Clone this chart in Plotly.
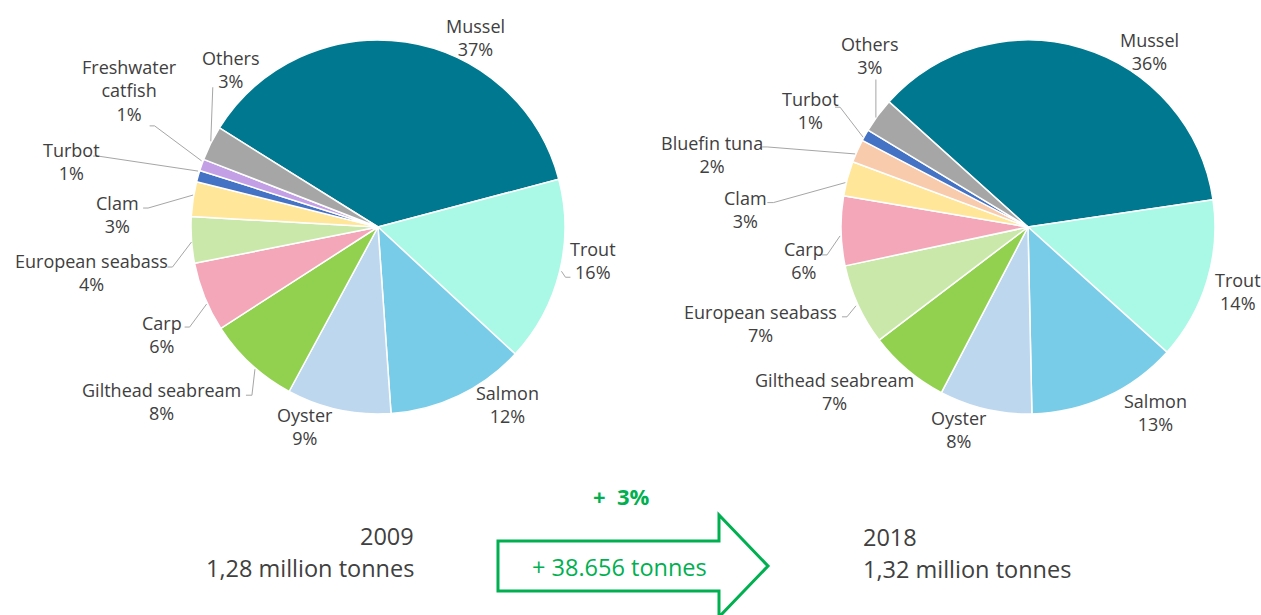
import math
import plotly.graph_objects as go

# ---------------- data ----------------
species_2009 = ["Mussel", "Trout", "Salmon", "Oyster", "Gilthead seabream", "Carp",
                "European seabass", "Clam", "Turbot", "Freshwater catfish", "Others"]
share_2009 = [37, 16, 12, 9, 8, 6, 4, 3, 1, 1, 3]

species_2018 = ["Mussel", "Trout", "Salmon", "Oyster", "Gilthead seabream", "European seabass",
                "Carp", "Clam", "Bluefin tuna", "Turbot", "Others"]
share_2018 = [36, 14, 13, 8, 7, 7, 6, 3, 2, 1, 3]

years = ["2009", "2018"]
totals = ["1,28 million tonnes", "1,32 million tonnes"]
change_pct = "+  3%"
change_tonnes = "+ 38.656 tonnes"

# ---------------- styles ----------------
COLORS = {
    "Mussel": "#00788F",
    "Trout": "#AAF8E6",
    "Salmon": "#78CCE8",
    "Oyster": "#BDD7EE",
    "Gilthead seabream": "#92D050",
    "Carp": "#F4A7B9",
    "European seabass": "#CAE8AA",
    "Clam": "#FFE699",
    "Turbot": "#4472C4",
    "Freshwater catfish": "#C39FE6",
    "Others": "#A6A6A6",
    "Bluefin tuna": "#F8CBAD",
}
DISPLAY = {"Freshwater catfish": "Freshwater<br>catfish"}
TEXT = "#404040"
LEAD = "#A6A6A6"
GREEN = "#00B050"
FONT = "Open Sans"

W, H = 1261, 615

# pie geometry (pixels) and label layout (pixel offsets from slice edge midpoint)
PIES = [
    dict(names=species_2009, values=share_2009, cx=378, cy=227, r=187, start=302,
         label_off={
             "Mussel": (70, -5), "Trout": (34, -12), "Salmon": (49, 9), "Oyster": (-33, 17),
             "Gilthead seabream": (-89, 37), "Carp": (-43, 37), "European seabass": (-100, 32),
             "Clam": (-76, 15), "Turbot": (-127, -15), "Freshwater catfish": (-72, -74),
             "Others": (20, -74)},
         leaders={
             "Trout": [(2, -1), (6, 5), (11, 5)],
             "Gilthead seabream": [(4, 5), (1, 31), (-5, 31)],
             "Carp": [(2, 7), (-15, 30), (-20, 30)],
             "European seabass": [(0, 2), (-19, 27), (-24, 27)],
             "Clam": [(0, -4), (-45, 9), (-50, 9)],
             "Turbot": [(0, -5), (-100, -20), (-105, -20)],
             "Freshwater catfish": [(0, -4), (-47, -39), (-52, -39)],
             "Others": [(0, -2), (2, -56)]}),
    dict(names=species_2018, values=share_2018, cx=1028, cy=227, r=187, start=312,
         label_off={
             "Mussel": (67, 4), "Trout": (31, 10), "Salmon": (50, 15), "Oyster": (-26, 20),
             "Gilthead seabream": (-73, 22), "European seabass": (-97, 19), "Carp": (-37, 30),
             "Clam": (-102, 31), "Bluefin tuna": (-145, 4), "Turbot": (-55, -25),
             "Others": (-8, -60)},
         leaders={
             "European seabass": [(-2, 1), (-11, 12), (-16, 12)],
             "Carp": [(-1, 5), (-14, 24), (-19, 24)],
             "Clam": [(-2, 4), (-74, 24), (-80, 24)],
             "Bluefin tuna": [(-2, 3), (-90, -4), (-95, -4)],
             "Turbot": [(-2, 2), (-25, -28), (-30, -28)],
             "Others": [(-2, 2), (-2, -36)]}),
]


def px(x):
    return x / W


def py(y):
    return 1 - y / H


fig = go.Figure()
annotations = []
shapes = []

for p in PIES:
    names, values = p["names"], p["values"]
    cx, cy, r = p["cx"], p["cy"], p["r"]
    fig.add_trace(go.Pie(
        labels=names, values=values, sort=False, direction="clockwise",
        rotation=p["start"] - 360,
        marker=dict(colors=[COLORS[n] for n in names], line=dict(color="white", width=1.5)),
        textinfo="none", hoverinfo="label+percent", showlegend=False,
        domain=dict(x=[px(cx - r), px(cx + r)], y=[py(cy + r), py(cy - r)]),
    ))
    total = sum(values)
    cum = 0
    for n, v in zip(names, values):
        a = math.radians(p["start"] + 360 * (cum + v / 2) / total)
        cum += v
        ex, ey = cx + r * math.sin(a), cy - r * math.cos(a)
        dx, dy = p["label_off"][n]
        annotations.append(dict(
            x=px(ex + dx), y=py(ey + dy), xref="paper", yref="paper",
            text=f"{DISPLAY.get(n, n)}<br>{v}%", showarrow=False,
            xanchor="center", yanchor="middle", align="center",
            font=dict(family=FONT, size=18, color=TEXT)))
        if n in p["leaders"]:
            pts = p["leaders"][n]
            path = "M " + " L ".join(f"{px(ex + ox):.5f},{py(ey + oy):.5f}" for ox, oy in pts)
            shapes.append(dict(type="path", xref="paper", yref="paper", path=path,
                               line=dict(color=LEAD, width=1)))

# bottom texts
big = dict(family=FONT, size=23.5, color=TEXT)
annotations += [
    dict(x=px(416), y=py(536), text=years[0], xanchor="right", yanchor="middle",
         showarrow=False, xref="paper", yref="paper", font=big),
    dict(x=px(416), y=py(568), text=totals[0], xanchor="right", yanchor="middle",
         showarrow=False, xref="paper", yref="paper", font=big),
    dict(x=px(861), y=py(537), text=years[1], xanchor="left", yanchor="middle",
         showarrow=False, xref="paper", yref="paper", font=big),
    dict(x=px(861), y=py(569), text=totals[1], xanchor="left", yanchor="middle",
         showarrow=False, xref="paper", yref="paper", font=big),
    dict(x=px(621), y=py(496), text=f"<b>{change_pct}</b>", xanchor="center", yanchor="middle",
         showarrow=False, xref="paper", yref="paper", font=dict(family=FONT, size=22, color=GREEN)),
    dict(x=px(619), y=py(567), text=change_tonnes, xanchor="center", yanchor="middle",
         showarrow=False, xref="paper", yref="paper", font=dict(family=FONT, size=23.5, color=GREEN)),
]

# outlined arrow
arrow_pts = [(498, 541), (719, 541), (719, 515), (768, 566), (719, 617), (719, 591), (498, 591)]
shapes.append(dict(
    type="path", xref="paper", yref="paper",
    path="M " + " L ".join(f"{px(x):.5f},{py(y):.5f}" for x, y in arrow_pts) + " Z",
    line=dict(color=GREEN, width=3), fillcolor="rgba(0,0,0,0)"))

fig.update_layout(
    width=W, height=H, autosize=False,
    margin=dict(l=0, r=0, t=0, b=0),
    paper_bgcolor="white", plot_bgcolor="white",
    annotations=annotations, shapes=shapes,
    font=dict(family=FONT, color=TEXT),
)

fig.write_html("out.html", config={"displayModeBar": False},
               post_script="document.body.style.margin='0';document.body.style.overflow='hidden';")
